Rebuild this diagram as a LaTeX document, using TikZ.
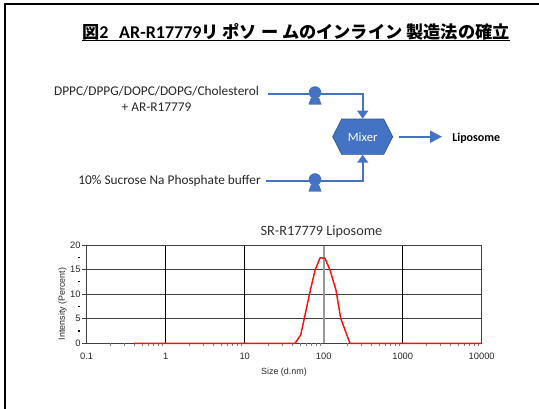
\documentclass[tikz,border=0pt]{standalone}
\usepackage{fontspec}
\setmainfont{Carlito}
\newfontfamily\arialfont{Liberation Sans}
\newfontfamily\cjkfont{Noto Sans CJK JP}
\usetikzlibrary{arrows.meta,shapes.symbols}

\definecolor{flowblue}{HTML}{4472C4}
\definecolor{flowedge}{HTML}{2F528F}
\definecolor{gridgray}{HTML}{404040}
\definecolor{peakred}{HTML}{FF1010}

\begin{document}
\begin{tikzpicture}[x=0.75pt,y=-0.75pt,
  flow/.style={draw=flowblue, line width=1.5pt},
  flowarrow/.style={flow, -{Triangle[width=8pt,length=6pt]}},
  lbl/.style={font=\fontsize{10}{12}\selectfont, text=black!85, inner sep=0},
  mixer/.style={shape=signal, signal to=east and west, signal pointer angle=126,
    fill=flowblue, draw=flowedge, line width=0.5pt, minimum width=45pt,
    minimum height=26.5pt, inner sep=0, text=white,
    font=\fontsize{9.5}{11}\selectfont},
  pump/.pic={
    \fill[flowblue] (0,-1.5) circle[radius=4.7pt];
    \fill[flowblue] (-4,3.5) -- (4,3.5) -- (6.5,10.5) -- (-6.5,10.5) -- cycle;},
  ticklbl/.style={font=\arialfont\fontsize{7}{8}\selectfont, text=black!85, inner sep=0},
  gridline/.style={draw=gridgray, line width=0.6pt},
]
\useasboundingbox (0,0) rectangle (539,408);

% page frame
\draw[line width=1.5pt] (5,410) -- (5,4) -- (539,4);

% heading
\node[anchor=base west, inner sep=0] (title) at (82,38)
  {{\cjkfont\bfseries\fontsize{12.9}{14}\selectfont 図}{\bfseries\fontsize{13.5}{16}\selectfont 2\hspace{8pt}AR-R17779}{\cjkfont\bfseries\fontsize{12.9}{14}\selectfont リ ポソ ー ムのインライン 製造法の確立}};
\draw[line width=1.2pt] ([yshift=-2pt]title.base west) -- ([yshift=-2pt]title.base east);

% process flow
\node[lbl, align=center] (src1) at (156.5,98.7) {DPPC/DPPG/DOPC/DOPG/Cholesterol\\+ AR-R17779};
\node[lbl, anchor=east] (src2) at (261,181) {10\% Sucrose Na Phosphate buffer};
\node[mixer] (mix) at (362.7,136.7) {Mixer};
\node[inner sep=0, anchor=west, font=\bfseries\fontsize{9}{11}\selectfont] (lipo) at (452,138.5) {Liposome};

\coordinate (in1) at (268,94);
\coordinate (in2) at (266,181);
\draw[flowarrow] (in1) -- (in1 -| mix.north) -- (mix.north);
\draw[flowarrow] (in2) -- (in2 -| mix.south) -- (mix.south);
\draw[flow, -{Triangle[width=9pt,length=9pt]}, shorten >=7.5pt]
  ([xshift=4.5pt]mix.east) -- (mix.east -| lipo.west);
\pic at (315,94) {pump};
\pic at (315,181) {pump};

% size distribution chart (x: decades above 0.1 nm, y: intensity %)
\begin{scope}[shift={(86.7,343.3)}, x=59.25pt, y=3.686pt]
  \foreach \v in {5,10,15} \draw[gridline] (0,\v) -- (5,\v);
  \foreach \d in {1,2,4} \draw[black, line width=0.6pt] (\d,0) -- (\d,20);
  \draw[black!40, line width=1.4pt] (3,0) -- (3,20);
  \draw[gridline] (0,0) rectangle (5,20);
  % axis ticks
  \foreach \v in {0,5,...,20} \draw[gridline] (-0.06,\v) -- (0,\v);
  \foreach \v in {2.5,7.5,12.5,17.5} \draw[black, line width=0.8pt] (-0.11,\v) -- (-0.08,\v);
  \foreach \d in {0,...,4} \foreach \m in {2,...,9}
    \draw[black!50, line width=0.5pt] ({\d+log10(\m)},0) -- ++(0,-0.45);
  % tick labels
  \foreach \v in {0,5,10,15,20} \node[ticklbl, anchor=east] (y\v) at (-0.075,\v) {\v};
  \foreach \lab [count=\i from 0] in {0.1,1,10,100,1000,10000}
    \node[ticklbl] (x\i) at (\i,-2.55) {\lab};
  \node[ticklbl, font=\arialfont\fontsize{6.7}{8}\selectfont, rotate=90] (ylab) at (-0.306,8) {Intensity (Percent)};
  \node[ticklbl, font=\arialfont\fontsize{6.7}{8}\selectfont] (xlab) at (2.497,-5.84) {Size (d.nm)};
  \node[inner sep=0, text=black!80, font=\fontsize{10.7}{12}\selectfont] (ctitle) at (2.972,22.7) {SR-R17779 Liposome};
  % measured distribution
  \draw[peakred, line width=1.1pt, line join=round]
    (0.6,0) -- (2.637,0) -- (2.709,1.7) -- (2.827,10.5) -- (2.891,14.9)
    -- (2.954,17.4) -- (3.016,17.3) -- (3.080,14.9) -- (3.156,10.8)
    -- (3.215,5.1) -- (3.270,2.7) -- (3.333,0) -- (5,0);
\end{scope}
\end{tikzpicture}
\end{document}
